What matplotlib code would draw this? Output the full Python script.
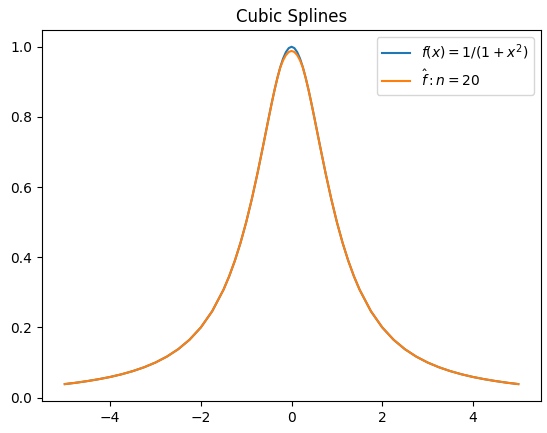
import matplotlib
matplotlib.use("Agg")
import matplotlib.pyplot as plt

x = [-5.0, -4.75, -4.5, -4.25, -4.0, -3.75, -3.5, -3.25, -3.0, -2.75,
     -2.5, -2.25, -2.0, -1.75, -1.5, -1.375, -1.25, -1.125, -1.0, -0.875,
     -0.75, -0.625, -0.5, -0.4375, -0.375, -0.3125, -0.25, -0.1875, -0.125, -0.0625,
     0.0,
     0.0625, 0.125, 0.1875, 0.25, 0.3125, 0.375, 0.4375, 0.5, 0.625, 0.75,
     0.875, 1.0, 1.125, 1.25, 1.375, 1.5, 1.75, 2.0, 2.25, 2.5,
     2.75, 3.0, 3.25, 3.5, 3.75, 4.0, 4.25, 4.5, 4.75, 5.0]

# true function f(x) = 1/(1+x^2)
f_true = [0.0385, 0.0424, 0.0471, 0.0525, 0.0588, 0.0664, 0.0755, 0.0865, 0.1000, 0.1168,
          0.1379, 0.1649, 0.2000, 0.2462, 0.3077, 0.3459, 0.3902, 0.4414, 0.5000, 0.5664,
          0.6400, 0.7191, 0.8000, 0.8393, 0.8767, 0.9110, 0.9412, 0.9660, 0.9846, 0.9961,
          1.0000,
          0.9961, 0.9846, 0.9660, 0.9412, 0.9110, 0.8767, 0.8393, 0.8000, 0.7191, 0.6400,
          0.5664, 0.5000, 0.4414, 0.3902, 0.3459, 0.3077, 0.2462, 0.2000, 0.1649, 0.1379,
          0.1168, 0.1000, 0.0865, 0.0755, 0.0664, 0.0588, 0.0525, 0.0471, 0.0424, 0.0385]

# cubic spline with n = 20 nodes
f_spline = [0.0385, 0.0424, 0.0471, 0.0525, 0.0588, 0.0664, 0.0755, 0.0865, 0.1000, 0.1168,
            0.1379, 0.1649, 0.2000, 0.2462, 0.3077, 0.3460, 0.3902, 0.4413, 0.5000, 0.5668,
            0.6400, 0.7185, 0.7990, 0.8390, 0.8768, 0.9105, 0.9405, 0.9610, 0.9760, 0.9850,
            0.9880,
            0.9850, 0.9760, 0.9610, 0.9405, 0.9105, 0.8768, 0.8390, 0.7990, 0.7185, 0.6400,
            0.5668, 0.5000, 0.4413, 0.3902, 0.3460, 0.3077, 0.2462, 0.2000, 0.1649, 0.1379,
            0.1168, 0.1000, 0.0865, 0.0755, 0.0664, 0.0588, 0.0525, 0.0471, 0.0424, 0.0385]

fig, ax = plt.subplots(figsize=(5.47, 4.33), dpi=100)
fig.subplots_adjust(left=0.077, right=0.989, top=0.931, bottom=0.074)

ax.plot(x, f_true, label=r'$f(x) = 1/(1+x^2)$')
ax.plot(x, f_spline, label=r'$\hat{f}: n = 20$')
ax.set_title("Cubic Splines")
ax.legend(loc='upper right')

fig.savefig("out.png", dpi=100)
